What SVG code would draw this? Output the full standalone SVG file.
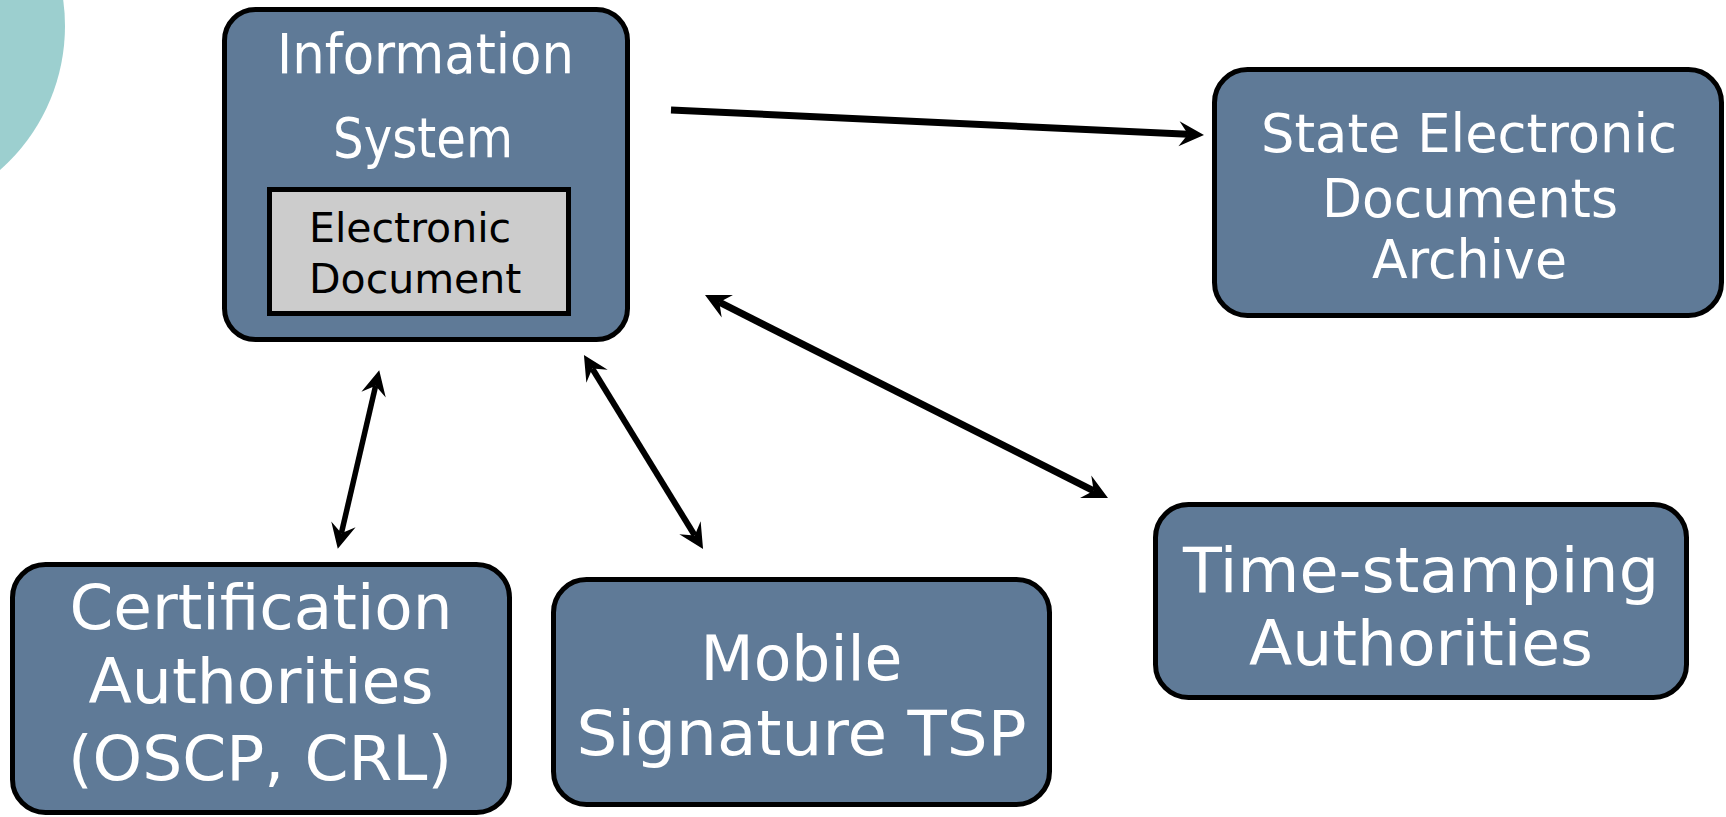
<svg xmlns="http://www.w3.org/2000/svg" width="1726" height="817" viewBox="0 0 1726 817">
  <style>
    .box { fill: #5f7a97; stroke: #000; stroke-width: 5; }
    .doc { fill: #cccccc; stroke: #000; stroke-width: 5; }
    .lbl { font-family: "DejaVu Sans", Verdana, sans-serif; fill: #ffffff; text-anchor: middle; }
    .doclbl { font-family: "DejaVu Sans", Verdana, sans-serif; fill: #000000; font-size: 41px; }
    .conn { stroke: #000; fill: none; stroke-linecap: butt; }
  </style>
  <defs>
    <marker id="head" markerUnits="userSpaceOnUse" orient="auto-start-reverse" refX="0" refY="0" markerWidth="30" markerHeight="30" overflow="visible">
      <path d="M16,0 L-9,-12.5 L0,0 L-9,12.5 Z" fill="#000"/>
    </marker>
  </defs>
  <rect width="1726" height="817" fill="#ffffff"/>
  <circle id="decor" cx="-127" cy="26" r="192" fill="#9ccfcf"/>

  <g id="connectors">
    <line class="conn" x1="671" y1="110" x2="1188" y2="134.2" stroke-width="7" marker-end="url(#head)"/>
    <line class="conn" x1="719.3" y1="302.2" x2="1093.7" y2="490.8" stroke-width="7" marker-start="url(#head)" marker-end="url(#head)"/>
    <line class="conn" x1="375.6" y1="385.8" x2="341.4" y2="533.2" stroke-width="5.5" marker-start="url(#head)" marker-end="url(#head)"/>
    <line class="conn" x1="592.3" y1="368.6" x2="694.7" y2="535.4" stroke-width="6" marker-start="url(#head)" marker-end="url(#head)"/>
  </g>

  <g id="info-system">
    <rect class="box" x="224.5" y="9.5" width="403" height="330" rx="31"/>
    <text class="lbl" x="425.5" y="73" font-size="56" textLength="297" lengthAdjust="spacingAndGlyphs">Information</text>
    <text class="lbl" x="423" y="157" font-size="56" textLength="180" lengthAdjust="spacingAndGlyphs">System</text>
    <g id="electronic-document">
      <rect class="doc" x="269.5" y="189.5" width="299" height="124"/>
      <text class="doclbl" x="309" y="242">Electronic</text>
      <text class="doclbl" x="309" y="293">Document</text>
    </g>
  </g>

  <g id="state-archive">
    <rect class="box" x="1214.5" y="69.5" width="507" height="246" rx="33"/>
    <text class="lbl" x="1469" y="152" font-size="53" textLength="416" lengthAdjust="spacingAndGlyphs">State Electronic</text>
    <text class="lbl" x="1470" y="217" font-size="53" textLength="296" lengthAdjust="spacingAndGlyphs">Documents</text>
    <text class="lbl" x="1469.5" y="278" font-size="53" textLength="195" lengthAdjust="spacingAndGlyphs">Archive</text>
  </g>

  <g id="certification-authorities">
    <rect class="box" x="12.5" y="564.5" width="497" height="248" rx="33"/>
    <text class="lbl" x="261" y="629" font-size="62" textLength="383" lengthAdjust="spacingAndGlyphs">Certification</text>
    <text class="lbl" x="261" y="703" font-size="62" textLength="345" lengthAdjust="spacingAndGlyphs">Authorities</text>
    <text class="lbl" x="260" y="780" font-size="62" textLength="384" lengthAdjust="spacingAndGlyphs">(OSCP, CRL)</text>
  </g>

  <g id="mobile-signature">
    <rect class="box" x="553.5" y="579.5" width="496" height="225" rx="33"/>
    <text class="lbl" x="801.5" y="680" font-size="63" textLength="202" lengthAdjust="spacingAndGlyphs">Mobile</text>
    <text class="lbl" x="801.5" y="755" font-size="63" textLength="450" lengthAdjust="spacingAndGlyphs">Signature TSP</text>
  </g>

  <g id="time-stamping">
    <rect class="box" x="1155.5" y="504.5" width="531" height="193" rx="33"/>
    <text class="lbl" x="1421" y="592" font-size="63" textLength="476" lengthAdjust="spacingAndGlyphs">Time-stamping</text>
    <text class="lbl" x="1421" y="665" font-size="63" textLength="344" lengthAdjust="spacingAndGlyphs">Authorities</text>
  </g>
</svg>
